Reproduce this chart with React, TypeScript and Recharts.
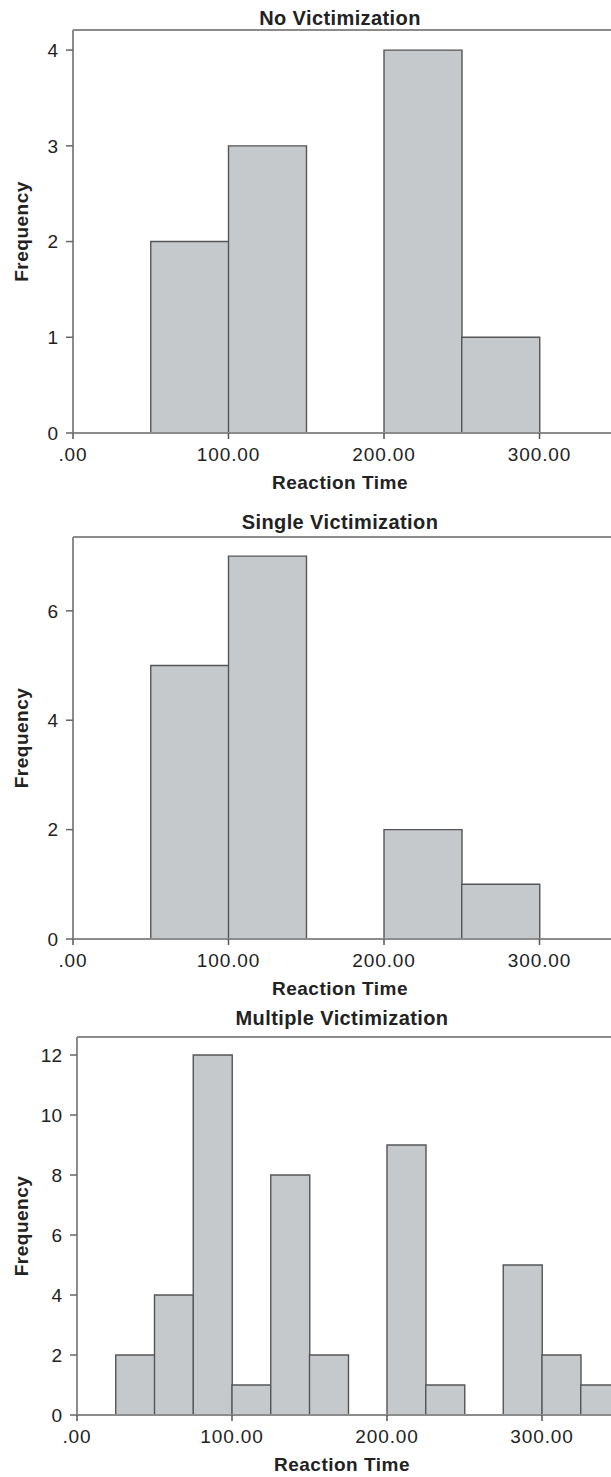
import { BarChart, Bar, XAxis, YAxis, ReferenceLine } from 'recharts';

const FONT = 'Arial, "Liberation Sans", Helvetica, sans-serif';

// bin starts of the reaction time histograms
const wideBins = [0, 50, 100, 150, 200, 250, 300, 350];
const narrowBins = [0, 25, 50, 75, 100, 125, 150, 175, 200, 225, 250, 275, 300, 325, 350, 375];

// frequencies per bin
const noVictimCounts = [0, 2, 3, 0, 4, 1, 0, 0];
const singleVictimCounts = [0, 5, 7, 0, 2, 1, 0, 0];
const multipleVictimCounts = [0, 2, 4, 12, 1, 8, 2, 0, 9, 1, 0, 5, 2, 1, 0, 0];

const xTicks = [0, 100, 200, 300];
const noVictimYTicks = [0, 1, 2, 3, 4];
const singleVictimYTicks = [0, 2, 4, 6];
const multipleVictimYTicks = [0, 2, 4, 6, 8, 10, 12];

const X_MAX = 400;
const X_AXIS_H = 70;

type PanelProps = {
  title: string;
  bins: number[];
  counts: number[];
  yTicks: number[];
  yMax: number;
  top: number;
  height: number;
  marginTop: number;
  yAxisWidth: number;
  plotWidth: number;
  titleY: number;
  centerX: number;
};

function Panel(p: PanelProps) {
  const binWidth = p.bins[1] - p.bins[0];
  const data = p.bins.map((b, i) => ({ mid: b + binWidth / 2, count: p.counts[i] }));
  const plotH = p.height - p.marginTop - X_AXIS_H;
  const midY = p.marginTop + plotH / 2;
  const baseY = p.marginTop + plotH;

  const freqLabel = () => (
    <text
      x={21.5}
      y={midY}
      transform={`rotate(-90, 21.5, ${midY})`}
      textAnchor="middle"
      dominantBaseline="central"
      style={{ fontFamily: FONT, fontSize: 19, fontWeight: 700, fill: '#222', letterSpacing: 0.5 }}
    >
      Frequency
    </text>
  );

  const timeLabel = () => (
    <text
      x={p.centerX}
      y={baseY + 49}
      textAnchor="middle"
      dominantBaseline="central"
      style={{ fontFamily: FONT, fontSize: 19, fontWeight: 700, fill: '#222', letterSpacing: 0.5 }}
    >
      Reaction Time
    </text>
  );

  return (
    <div style={{ position: 'absolute', left: 0, top: p.top }}>
      <div
        style={{
          position: 'absolute', left: p.centerX - 200, width: 400, top: p.titleY - 10,
          textAlign: 'center', fontFamily: FONT, fontSize: 20, lineHeight: '20px',
          fontWeight: 700, color: '#222', letterSpacing: 0.4, zIndex: 1,
        }}
      >
        {p.title}
      </div>
      <BarChart
        width={p.yAxisWidth + p.plotWidth}
        height={p.height}
        data={data}
        margin={{ top: p.marginTop, right: 0, bottom: 0, left: 0 }}
        barCategoryGap={0}
        barGap={0}
      >
        <XAxis
          dataKey="mid"
          type="number"
          domain={[0, X_MAX]}
          ticks={xTicks}
          allowDataOverflow
          height={X_AXIS_H}
          tickFormatter={v => (v === 0 ? '.00' : Number(v).toFixed(2))}
          tick={{ fontFamily: FONT, fontSize: 19, fill: '#222', letterSpacing: 0.9 }}
          tickSize={6}
          tickMargin={9}
          tickLine={{ stroke: '#555', strokeWidth: 1.5 }}
          axisLine={{ stroke: '#8c8c8c', strokeWidth: 2 }}
          label={timeLabel}
        />
        <YAxis
          type="number"
          domain={[0, p.yMax]}
          ticks={p.yTicks}
          allowDataOverflow
          width={p.yAxisWidth}
          tick={{ fontFamily: FONT, fontSize: 19, fill: '#222' }}
          tickSize={7}
          tickMargin={8}
          tickLine={{ stroke: '#666', strokeWidth: 1.5 }}
          axisLine={{ stroke: '#8c8c8c', strokeWidth: 2 }}
          label={freqLabel}
        />
        <Bar
          dataKey="count"
          fill="#c6c9cc"
          stroke="#555"
          strokeWidth={1.4}
          isAnimationActive={false}
        />
        <ReferenceLine y={p.yMax} stroke="#8c8c8c" strokeWidth={2} />
      </BarChart>
    </div>
  );
}

export default function App() {
  return (
    <div
      style={{
        position: 'absolute', left: 0, top: 0, width: 611, height: 1477,
        overflow: 'hidden', background: '#fff',
      }}
    >
      <Panel
        title="No Victimization"
        bins={wideBins}
        counts={noVictimCounts}
        yTicks={noVictimYTicks}
        yMax={4.21}
        top={0}
        height={503}
        marginTop={30}
        yAxisWidth={73}
        plotWidth={622}
        titleY={18}
        centerX={340}
      />
      <Panel
        title="Single Victimization"
        bins={wideBins}
        counts={singleVictimCounts}
        yTicks={singleVictimYTicks}
        yMax={7.35}
        top={503}
        height={506}
        marginTop={34}
        yAxisWidth={73}
        plotWidth={622}
        titleY={18.5}
        centerX={340}
      />
      <Panel
        title="Multiple Victimization"
        bins={narrowBins}
        counts={multipleVictimCounts}
        yTicks={multipleVictimYTicks}
        yMax={12.6}
        top={1009}
        height={476}
        marginTop={28}
        yAxisWidth={77}
        plotWidth={620}
        titleY={9}
        centerX={342}
      />
    </div>
  );
}
